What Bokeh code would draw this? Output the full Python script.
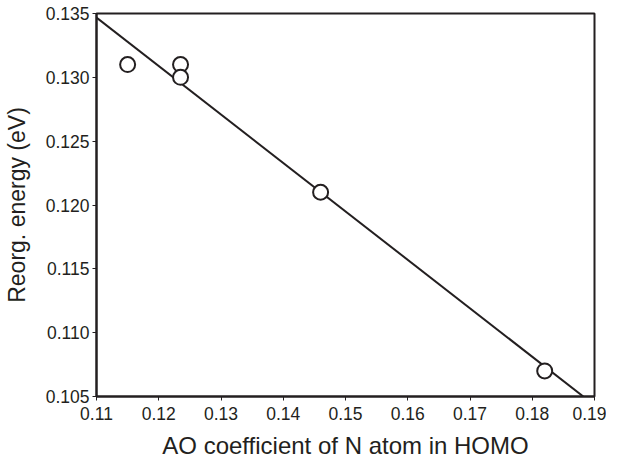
from bokeh.plotting import figure
from bokeh.models import Range1d, FixedTicker, PrintfTickFormatter
from bokeh.embed import file_html
from bokeh.resources import INLINE

# Data
ao_coef = [0.115, 0.1235, 0.1235, 0.146, 0.182]
reorg_energy = [0.131, 0.131, 0.130, 0.121, 0.107]

# Fitted line end points (as drawn in the reference)
fit_x = [0.110, 0.1882]
fit_y = [0.13468, 0.105]

x_ticks = [0.11, 0.12, 0.13, 0.14, 0.15, 0.16, 0.17, 0.18, 0.19]
y_ticks = [0.105, 0.110, 0.115, 0.120, 0.125, 0.130, 0.135]

INK = "#231f20"
FONT = "Liberation Sans"

p = figure(width=606, height=468, output_backend="svg", toolbar_location=None,
           x_range=Range1d(0.11, 0.19), y_range=Range1d(0.105, 0.135),
           min_border_left=90, min_border_right=12, min_border_top=13,
           min_border_bottom=72)

p.background_fill_color = "white"
p.border_fill_color = "white"
p.outline_line_color = INK
p.outline_line_width = 2
p.xgrid.visible = False
p.ygrid.visible = False

p.line(fit_x, fit_y, line_color=INK, line_width=2)
p.scatter(ao_coef, reorg_energy, marker="circle", size=15, fill_color="white",
          line_color=INK, line_width=2)

for ax in (p.xaxis[0], p.yaxis[0]):
    ax.axis_line_color = INK
    ax.axis_line_width = 2
    ax.major_tick_line_color = INK
    ax.major_tick_line_width = 1
    ax.major_tick_in = 0
    ax.major_tick_out = 4
    ax.minor_tick_line_color = None
    ax.major_label_text_font = FONT
    ax.major_label_text_font_size = "17.5px"
    ax.major_label_text_color = INK
    ax.axis_label_text_font = FONT
    ax.axis_label_text_font_style = "normal"
    ax.axis_label_text_color = INK

p.xaxis[0].ticker = FixedTicker(ticks=x_ticks)
p.xaxis[0].formatter = PrintfTickFormatter(format="%.2f")
p.xaxis[0].major_label_standoff = 6
p.xaxis[0].axis_label = "AO coefficient of N atom in HOMO"
p.xaxis[0].axis_label_text_font_size = "24px"
p.xaxis[0].axis_label_standoff = 9

p.yaxis[0].ticker = FixedTicker(ticks=y_ticks)
p.yaxis[0].formatter = PrintfTickFormatter(format="%.3f")
p.yaxis[0].major_label_standoff = 3
p.yaxis[0].axis_label = "Reorg. energy (eV)"
p.yaxis[0].axis_label_text_font_size = "23px"
p.yaxis[0].axis_label_standoff = 13

open("out.html", "w").write(file_html(p, INLINE))
